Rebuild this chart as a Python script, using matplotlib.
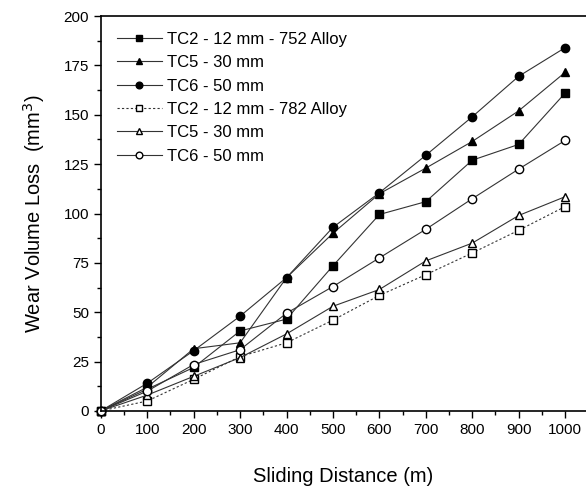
import matplotlib.pyplot as plt
from matplotlib.ticker import MultipleLocator

plt.rcParams['font.family'] = ['Liberation Sans', 'DejaVu Sans']

# Sliding distance (m)
distance = [0, 100, 200, 300, 400, 500, 600, 700, 800, 900, 1000]

# 752 alloy (filled markers)
tc2_752 = [0, 11, 22, 40.5, 46.5, 73.5, 99.5, 106, 127, 135, 161]
tc5_752 = [0, 12, 31.5, 34.5, 67.5, 90, 110, 123, 136.5, 152, 171.5]
tc6_752 = [0, 14, 30.5, 48, 67.5, 93, 110.5, 129.5, 149, 169.5, 184]

# 782 alloy (open markers)
tc2_782 = [0, 5, 16, 27.5, 34.5, 46, 58.5, 69, 80, 91.5, 103.5]
tc5_782 = [0, 8, 17.5, 27, 39, 53, 61.5, 76, 85, 99, 108.5]
tc6_782 = [0, 10, 23.5, 31, 49.5, 63, 77.5, 92, 107.5, 122.5, 137]

fig = plt.figure(figsize=(5.86, 4.88), dpi=100)
ax = fig.add_axes([0.172, 0.158, 0.828, 0.809])

lc = '#333333'
common = dict(color=lc, linewidth=0.8, markersize=6, clip_on=False,
              markeredgecolor='black', markeredgewidth=1.0)

ax.plot(distance, tc2_752, marker='s', markerfacecolor='black', label='TC2 - 12 mm - 752 Alloy', **common)
ax.plot(distance, tc5_752, marker='^', markerfacecolor='black', label='TC5 - 30 mm', **common)
ax.plot(distance, tc6_752, marker='o', markerfacecolor='black', label='TC6 - 50 mm', **common)
ax.plot(distance, tc2_782, marker='s', markerfacecolor='white', linestyle=(0, (2, 2)),
        label='TC2 - 12 mm - 782 Alloy', **common)
ax.plot(distance, tc5_782, marker='^', markerfacecolor='white', label='TC5 - 30 mm', **common)
ax.plot(distance, tc6_782, marker='o', markerfacecolor='white', label='TC6 - 50 mm', **common)

ax.set_xlim(0, 1045)
ax.set_ylim(0, 200)
ax.xaxis.set_major_locator(MultipleLocator(100))
ax.xaxis.set_minor_locator(MultipleLocator(50))
ax.yaxis.set_major_locator(MultipleLocator(25))
ax.yaxis.set_minor_locator(MultipleLocator(12.5))
ax.tick_params(which='major', direction='out', length=5, width=1, labelsize=11)
ax.tick_params(which='minor', direction='out', length=3, width=1)
ax.spines['right'].set_visible(False)
for s in ['left', 'bottom', 'top']:
    ax.spines[s].set_linewidth(1.2)

ax.set_xlabel('Sliding Distance (m)', fontsize=14.5, labelpad=22)
ax.set_ylabel('Wear Volume Loss  (mm$^3$)', fontsize=14.5, labelpad=12)

ax.legend(loc='upper left', frameon=False, fontsize=12, handlelength=2.7,
          handletextpad=0.35, labelspacing=0.5, borderaxespad=0.55,
          markerscale=0.8)

fig.savefig('out.png', dpi=100)
